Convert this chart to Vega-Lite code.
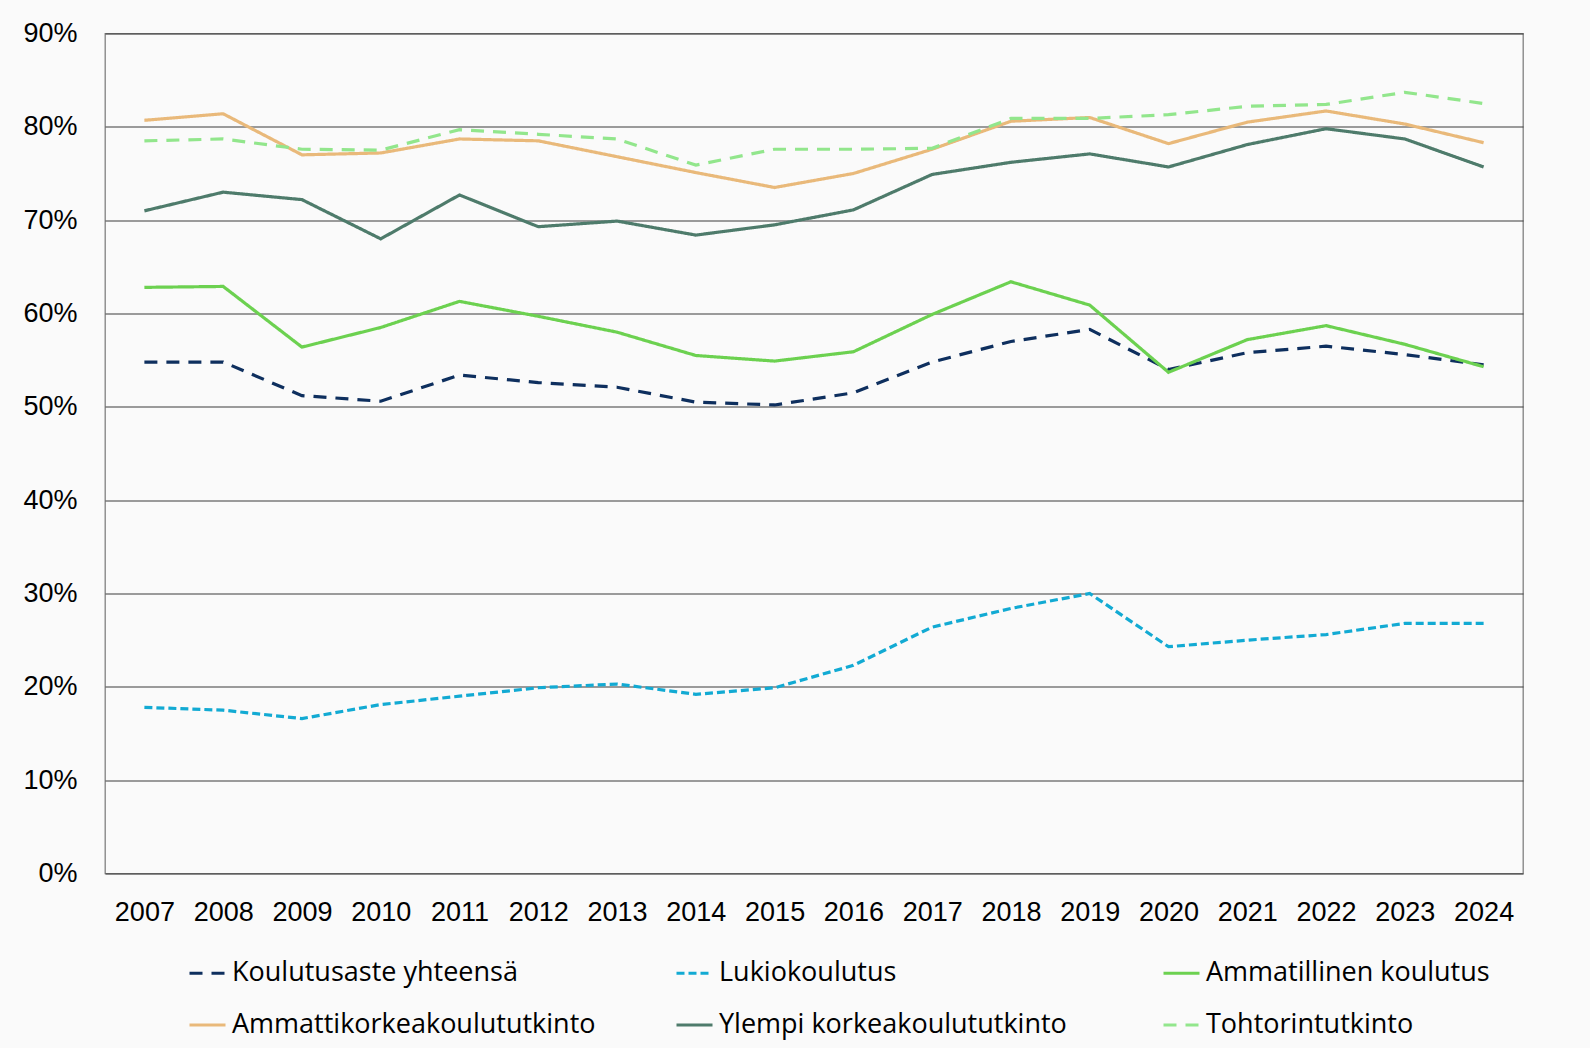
{
  "$schema": "https://vega.github.io/schema/vega-lite/v6.json",
  "width": 1418,
  "height": 840,
  "autosize": {"type": "none"},
  "padding": {"left": 105, "top": 33.5, "right": 67, "bottom": 174.5},
  "background": "#fafafa",
  "config": {
    "view": {"stroke": "#808080", "strokeWidth": 1.3},
    "axis": {"domain": false, "ticks": false, "labelFont": "Liberation Sans", "labelFontSize": 27, "labelColor": "#000000"},
    "legend": {"labelFont": "Open Sans", "labelFontSize": 27, "labelColor": "#000000", "labelLimit": 0}
  },
  "data": {
    "values": [
      {"year": "2007", "series": "Koulutusaste yhteensä", "value": 54.8},
      {"year": "2008", "series": "Koulutusaste yhteensä", "value": 54.8},
      {"year": "2009", "series": "Koulutusaste yhteensä", "value": 51.2},
      {"year": "2010", "series": "Koulutusaste yhteensä", "value": 50.6},
      {"year": "2011", "series": "Koulutusaste yhteensä", "value": 53.4},
      {"year": "2012", "series": "Koulutusaste yhteensä", "value": 52.6},
      {"year": "2013", "series": "Koulutusaste yhteensä", "value": 52.1},
      {"year": "2014", "series": "Koulutusaste yhteensä", "value": 50.5},
      {"year": "2015", "series": "Koulutusaste yhteensä", "value": 50.2},
      {"year": "2016", "series": "Koulutusaste yhteensä", "value": 51.5},
      {"year": "2017", "series": "Koulutusaste yhteensä", "value": 54.8},
      {"year": "2018", "series": "Koulutusaste yhteensä", "value": 57.0},
      {"year": "2019", "series": "Koulutusaste yhteensä", "value": 58.3},
      {"year": "2020", "series": "Koulutusaste yhteensä", "value": 54.0},
      {"year": "2021", "series": "Koulutusaste yhteensä", "value": 55.8},
      {"year": "2022", "series": "Koulutusaste yhteensä", "value": 56.5},
      {"year": "2023", "series": "Koulutusaste yhteensä", "value": 55.6},
      {"year": "2024", "series": "Koulutusaste yhteensä", "value": 54.5},
      {"year": "2007", "series": "Lukiokoulutus", "value": 17.8},
      {"year": "2008", "series": "Lukiokoulutus", "value": 17.5},
      {"year": "2009", "series": "Lukiokoulutus", "value": 16.6},
      {"year": "2010", "series": "Lukiokoulutus", "value": 18.1},
      {"year": "2011", "series": "Lukiokoulutus", "value": 19.0},
      {"year": "2012", "series": "Lukiokoulutus", "value": 19.9},
      {"year": "2013", "series": "Lukiokoulutus", "value": 20.3},
      {"year": "2014", "series": "Lukiokoulutus", "value": 19.2},
      {"year": "2015", "series": "Lukiokoulutus", "value": 19.9},
      {"year": "2016", "series": "Lukiokoulutus", "value": 22.3},
      {"year": "2017", "series": "Lukiokoulutus", "value": 26.4},
      {"year": "2018", "series": "Lukiokoulutus", "value": 28.4},
      {"year": "2019", "series": "Lukiokoulutus", "value": 30.0},
      {"year": "2020", "series": "Lukiokoulutus", "value": 24.3},
      {"year": "2021", "series": "Lukiokoulutus", "value": 25.0},
      {"year": "2022", "series": "Lukiokoulutus", "value": 25.6},
      {"year": "2023", "series": "Lukiokoulutus", "value": 26.8},
      {"year": "2024", "series": "Lukiokoulutus", "value": 26.8},
      {"year": "2007", "series": "Ammatillinen koulutus", "value": 62.8},
      {"year": "2008", "series": "Ammatillinen koulutus", "value": 62.9},
      {"year": "2009", "series": "Ammatillinen koulutus", "value": 56.4},
      {"year": "2010", "series": "Ammatillinen koulutus", "value": 58.5},
      {"year": "2011", "series": "Ammatillinen koulutus", "value": 61.3},
      {"year": "2012", "series": "Ammatillinen koulutus", "value": 59.7},
      {"year": "2013", "series": "Ammatillinen koulutus", "value": 58.0},
      {"year": "2014", "series": "Ammatillinen koulutus", "value": 55.5},
      {"year": "2015", "series": "Ammatillinen koulutus", "value": 54.9},
      {"year": "2016", "series": "Ammatillinen koulutus", "value": 55.9},
      {"year": "2017", "series": "Ammatillinen koulutus", "value": 59.9},
      {"year": "2018", "series": "Ammatillinen koulutus", "value": 63.4},
      {"year": "2019", "series": "Ammatillinen koulutus", "value": 60.9},
      {"year": "2020", "series": "Ammatillinen koulutus", "value": 53.7},
      {"year": "2021", "series": "Ammatillinen koulutus", "value": 57.2},
      {"year": "2022", "series": "Ammatillinen koulutus", "value": 58.7},
      {"year": "2023", "series": "Ammatillinen koulutus", "value": 56.7},
      {"year": "2024", "series": "Ammatillinen koulutus", "value": 54.3},
      {"year": "2007", "series": "Ammattikorkeakoulututkinto", "value": 80.7},
      {"year": "2008", "series": "Ammattikorkeakoulututkinto", "value": 81.4},
      {"year": "2009", "series": "Ammattikorkeakoulututkinto", "value": 77.0},
      {"year": "2010", "series": "Ammattikorkeakoulututkinto", "value": 77.2},
      {"year": "2011", "series": "Ammattikorkeakoulututkinto", "value": 78.7},
      {"year": "2012", "series": "Ammattikorkeakoulututkinto", "value": 78.5},
      {"year": "2013", "series": "Ammattikorkeakoulututkinto", "value": 76.8},
      {"year": "2014", "series": "Ammattikorkeakoulututkinto", "value": 75.1},
      {"year": "2015", "series": "Ammattikorkeakoulututkinto", "value": 73.5},
      {"year": "2016", "series": "Ammattikorkeakoulututkinto", "value": 75.0},
      {"year": "2017", "series": "Ammattikorkeakoulututkinto", "value": 77.6},
      {"year": "2018", "series": "Ammattikorkeakoulututkinto", "value": 80.6},
      {"year": "2019", "series": "Ammattikorkeakoulututkinto", "value": 81.0},
      {"year": "2020", "series": "Ammattikorkeakoulututkinto", "value": 78.2},
      {"year": "2021", "series": "Ammattikorkeakoulututkinto", "value": 80.5},
      {"year": "2022", "series": "Ammattikorkeakoulututkinto", "value": 81.7},
      {"year": "2023", "series": "Ammattikorkeakoulututkinto", "value": 80.3},
      {"year": "2024", "series": "Ammattikorkeakoulututkinto", "value": 78.3},
      {"year": "2007", "series": "Ylempi korkeakoulututkinto", "value": 71.0},
      {"year": "2008", "series": "Ylempi korkeakoulututkinto", "value": 73.0},
      {"year": "2009", "series": "Ylempi korkeakoulututkinto", "value": 72.2},
      {"year": "2010", "series": "Ylempi korkeakoulututkinto", "value": 68.0},
      {"year": "2011", "series": "Ylempi korkeakoulututkinto", "value": 72.7},
      {"year": "2012", "series": "Ylempi korkeakoulututkinto", "value": 69.3},
      {"year": "2013", "series": "Ylempi korkeakoulututkinto", "value": 69.9},
      {"year": "2014", "series": "Ylempi korkeakoulututkinto", "value": 68.4},
      {"year": "2015", "series": "Ylempi korkeakoulututkinto", "value": 69.5},
      {"year": "2016", "series": "Ylempi korkeakoulututkinto", "value": 71.1},
      {"year": "2017", "series": "Ylempi korkeakoulututkinto", "value": 74.9},
      {"year": "2018", "series": "Ylempi korkeakoulututkinto", "value": 76.2},
      {"year": "2019", "series": "Ylempi korkeakoulututkinto", "value": 77.1},
      {"year": "2020", "series": "Ylempi korkeakoulututkinto", "value": 75.7},
      {"year": "2021", "series": "Ylempi korkeakoulututkinto", "value": 78.1},
      {"year": "2022", "series": "Ylempi korkeakoulututkinto", "value": 79.8},
      {"year": "2023", "series": "Ylempi korkeakoulututkinto", "value": 78.7},
      {"year": "2024", "series": "Ylempi korkeakoulututkinto", "value": 75.7},
      {"year": "2007", "series": "Tohtorintutkinto", "value": 78.5},
      {"year": "2008", "series": "Tohtorintutkinto", "value": 78.7},
      {"year": "2009", "series": "Tohtorintutkinto", "value": 77.6},
      {"year": "2010", "series": "Tohtorintutkinto", "value": 77.5},
      {"year": "2011", "series": "Tohtorintutkinto", "value": 79.7},
      {"year": "2012", "series": "Tohtorintutkinto", "value": 79.2},
      {"year": "2013", "series": "Tohtorintutkinto", "value": 78.7},
      {"year": "2014", "series": "Tohtorintutkinto", "value": 75.9},
      {"year": "2015", "series": "Tohtorintutkinto", "value": 77.6},
      {"year": "2016", "series": "Tohtorintutkinto", "value": 77.6},
      {"year": "2017", "series": "Tohtorintutkinto", "value": 77.7},
      {"year": "2018", "series": "Tohtorintutkinto", "value": 80.9},
      {"year": "2019", "series": "Tohtorintutkinto", "value": 80.9},
      {"year": "2020", "series": "Tohtorintutkinto", "value": 81.3},
      {"year": "2021", "series": "Tohtorintutkinto", "value": 82.2},
      {"year": "2022", "series": "Tohtorintutkinto", "value": 82.4},
      {"year": "2023", "series": "Tohtorintutkinto", "value": 83.7},
      {"year": "2024", "series": "Tohtorintutkinto", "value": 82.5}
    ]
  },
  "mark": {"type": "line", "strokeWidth": 3.2},
  "encoding": {
    "x": {
      "field": "year", "type": "ordinal",
      "scale": {"type": "point", "padding": 0.5},
      "axis": {"title": null, "labelAngle": 0, "grid": false, "labelPadding": 26}
    },
    "y": {
      "field": "value", "type": "quantitative",
      "scale": {"domain": [0, 90], "nice": false},
      "axis": {
        "title": null,
        "values": [0, 10, 20, 30, 40, 50, 60, 70, 80, 90],
        "labelExpr": "datum.value + '%'",
        "grid": true, "gridColor": "#3a3a3a", "gridWidth": 1,
        "labelPadding": 28
      }
    },
    "color": {
      "field": "series", "type": "nominal",
      "scale": {
        "domain": ["Koulutusaste yhteensä", "Lukiokoulutus", "Ammatillinen koulutus", "Ammattikorkeakoulututkinto", "Ylempi korkeakoulututkinto", "Tohtorintutkinto"],
        "range": ["#0E2F5E", "#12AAD3", "#6CD150", "#E9B97A", "#4E7B6B", "#92E68C"]
      },
      "legend": {
        "title": null, "orient": "none", "direction": "horizontal", "legendX": 83, "legendY": 920, "padding": 0,
        "columns": 3, "gridAlign": "all", "columnPadding": 74, "rowPadding": 19,
        "symbolType": "stroke", "symbolSize": 1296, "symbolStrokeWidth": 3, "labelOffset": 5
      }
    },
    "strokeDash": {
      "field": "series", "type": "nominal",
      "scale": {
        "domain": ["Koulutusaste yhteensä", "Lukiokoulutus", "Ammatillinen koulutus", "Ammattikorkeakoulututkinto", "Ylempi korkeakoulututkinto", "Tohtorintutkinto"],
        "range": [[13, 9], [8, 4], [1, 0], [1, 0], [1, 0], [13, 9]]
      },
      "legend": {
        "title": null, "orient": "none", "direction": "horizontal", "legendX": 83, "legendY": 920, "padding": 0,
        "columns": 3, "gridAlign": "all", "columnPadding": 74, "rowPadding": 19,
        "symbolType": "stroke", "symbolSize": 1296, "symbolStrokeWidth": 3, "labelOffset": 5
      }
    }
  }
}
